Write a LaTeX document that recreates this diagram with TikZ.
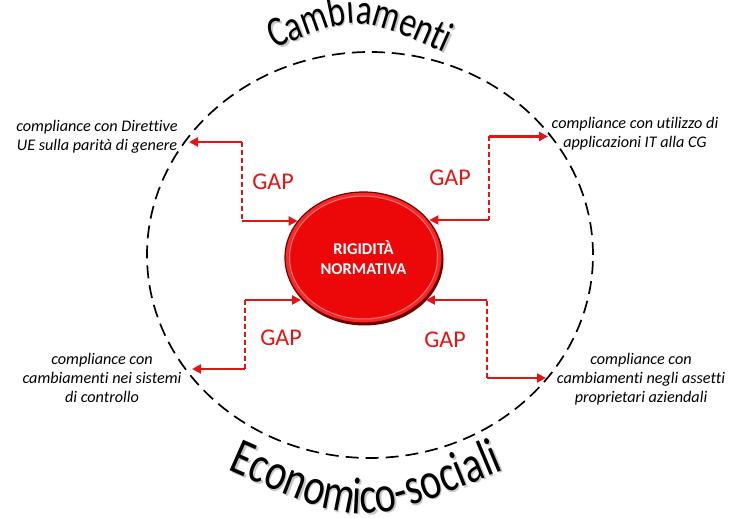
\documentclass[tikz,border=0pt]{standalone}
\usepackage{fontspec}
\setmainfont[Ligatures=NoCommon]{Carlito}
\newfontfamily\wordart[FakeStretch=0.77,Ligatures=NoCommon]{Carlito}
\usetikzlibrary{arrows.meta,decorations.text,shapes.geometric}
\definecolor{arrowred}{RGB}{228,20,20}
\definecolor{ballred}{RGB}{236,8,8}
\definecolor{ballrim}{RGB}{110,0,0}
\begin{document}
\begin{tikzpicture}[x=1pt,y=1pt,
  conn/.style={draw=arrowred, line width=2.7pt},
  tipped/.style={conn, -{Triangle[length=9pt,width=9pt]}},
  gapline/.style={draw=arrowred, line width=2.2pt, dash pattern=on 5pt off 3pt},
  gaplabel/.style={text=arrowred, font=\fontsize{24}{24}\selectfont},
  comp/.style={align=center, font=\itshape\fontsize{16.2}{18.7}\selectfont},
  bigring/.style={draw=black, line width=1.7pt, dash pattern=on 13pt off 7pt}
]
\useasboundingbox (0,0) rectangle (738,518);

% outer dashed ellipse
\draw[bigring] (370,263) ellipse [x radius=223, y radius=203];

% arched titles (shadow + text)
\path[decorate, decoration={text along path, text color=black!22,
  text={|\wordart\fontsize{43}{43}\selectfont|Cambiamenti}, text align={align=center}}]
  (273.5,466.5) .. controls (358.5,502.5) .. (448.5,462.5);
\path[decorate, decoration={text along path, text color=black,
  text={|\wordart\fontsize{43}{43}\selectfont|Cambiamenti}, text align={align=center}}]
  (272,468) .. controls (357,504) .. (447,464);
\path[decorate, decoration={text along path, text color=black!22,
  text={|\wordart\fontsize{52}{52}\selectfont|Economico-sociali}, text align={align=center}}]
  (219.5,51) .. controls (363.5,-13) .. (515.5,51);
\path[decorate, decoration={text along path, text color=black,
  text={|\wordart\fontsize{52}{52}\selectfont|Economico-sociali}, text align={align=center}}]
  (218,52.5) .. controls (362,-11.5) .. (514,52.5);

% central ellipse
\fill[ballrim] (364.5,258.5) ellipse [x radius=79, y radius=66];
\node[ellipse, minimum width=157pt, minimum height=131pt, inner sep=0pt,
  draw=ballrim, line width=1.2pt, inner color=ballred, outer color=red!85!white]
  (rig) at (363.5,260.5) {};
\draw[red!55!white, line width=1pt] (363.5,260.5) ellipse [x radius=74, y radius=61.5];
\node[ellipse, minimum width=146pt, minimum height=121pt, inner sep=0pt,
  fill=ballred, align=center, text=white, font=\bfseries\fontsize{16.5}{20}\selectfont]
  (rigtext) at (363.5,260.5) {RIGIDITÀ\\NORMATIVA};

% compliance labels
\node[comp] (tl) at (97,381) {compliance con Direttive\\UE sulla parità di genere};
\node[comp] (tr) at (635,384) {compliance con utilizzo di\\applicazioni IT alla CG};
\node[comp] (bl) at (102,140) {compliance con\\cambiamenti nei sistemi\\di controllo};
\node[comp] (br) at (641,139) {compliance con\\cambiamenti negli assetti\\proprietari aziendali};

% connector corners and free ends
\coordinate (tlTip) at (189,376);
\coordinate (tlUp) at (242,376);
\coordinate (tlLow) at (242,297);
\coordinate (trTip) at (548,381.5);
\coordinate (trUp) at (489,381.5);
\coordinate (trLow) at (489,298);
\coordinate (blTip) at (192,149);
\coordinate (blLow) at (245,149);
\coordinate (blUp) at (245,218);
\coordinate (brTip) at (546,140);
\coordinate (brLow) at (487,140);
\coordinate (brUp) at (487,218);

% top-left
\draw[tipped] (tlUp) -- (tlTip);
\draw[gapline] (tlUp) -- (tlLow);
\draw[tipped] (tlLow) -- (rig.151 |- tlLow);
% top-right
\draw[tipped] (trUp) -- (trTip);
\draw[gapline] (trUp) -- (trLow);
\draw[tipped] (trLow) -- (rig.29 |- trLow);
% bottom-left
\draw[tipped] (blLow) -- (blTip);
\draw[gapline] (blLow) -- (blUp);
\draw[tipped] (blUp) -- (rig.213 |- blUp);
% bottom-right
\draw[tipped] (brLow) -- (brTip);
\draw[gapline] (brLow) -- (brUp);
\draw[tipped] (brUp) -- (rig.327 |- brUp);

% GAP labels
\node[gaplabel] (gtl) at (273,336) {GAP};
\node[gaplabel] (gtr) at (450,340) {GAP};
\node[gaplabel] (gbl) at (281,180) {GAP};
\node[gaplabel] (gbr) at (445,178) {GAP};
\end{tikzpicture}
\end{document}
